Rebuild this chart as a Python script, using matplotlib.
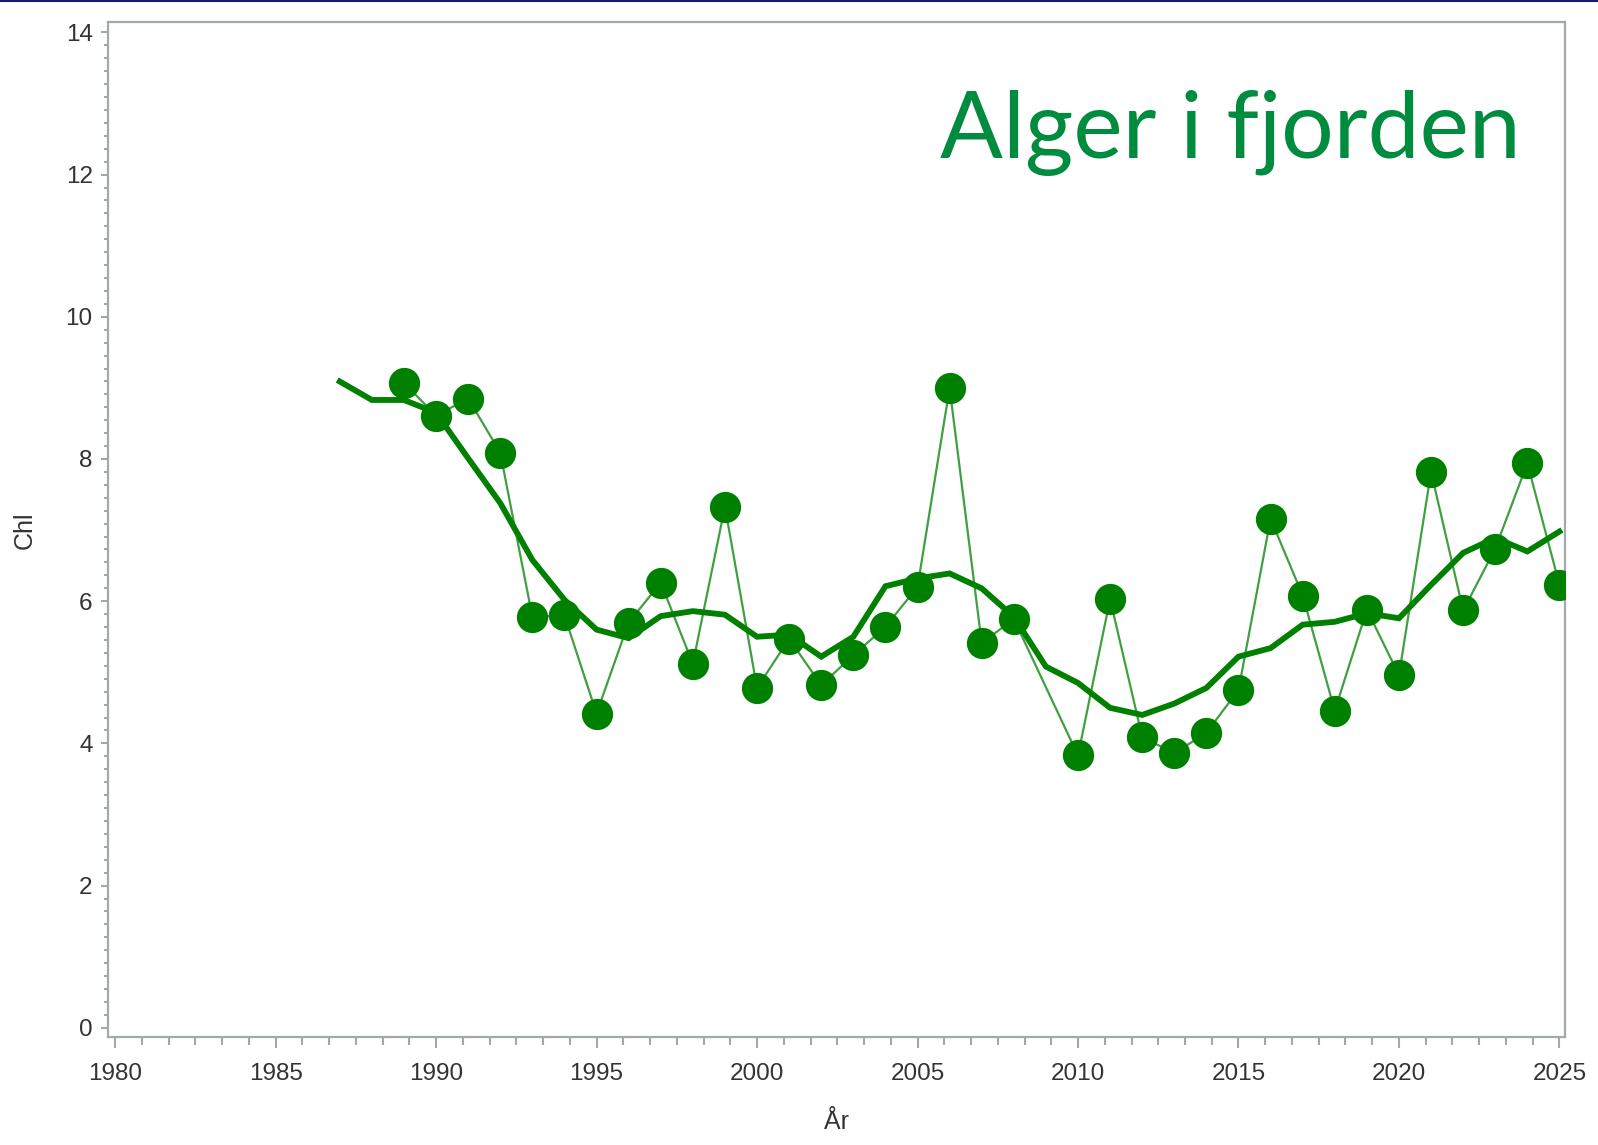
import matplotlib.pyplot as plt
from matplotlib.ticker import MultipleLocator
from matplotlib.lines import Line2D

# measured yearly means (no value for 2009)
years = [1989, 1990, 1991, 1992, 1993, 1994, 1995, 1996, 1997, 1998,
         1999, 2000, 2001, 2002, 2003, 2004, 2005, 2006, 2007, 2008,
         2010, 2011, 2012, 2013, 2014, 2015, 2016, 2017, 2018, 2019,
         2020, 2021, 2022, 2023, 2024, 2025]
chl = [9.07, 8.61, 8.85, 8.09, 5.78, 5.80, 4.42, 5.70, 6.26, 5.12,
       7.33, 4.78, 5.47, 4.82, 5.24, 5.64, 6.20, 9.00, 5.41, 5.75,
       3.83, 6.03, 4.09, 3.86, 4.15, 4.75, 7.16, 6.08, 4.46, 5.88,
       4.96, 7.82, 5.87, 6.74, 7.94, 6.23]

# smoothed trend
trend_years = list(range(1987, 2026))
trend = [9.09, 8.83, 8.83, 8.65, 8.01, 7.38, 6.58, 6.02, 5.60, 5.48,
         5.79, 5.86, 5.81, 5.50, 5.53, 5.22, 5.50, 6.21, 6.32, 6.39,
         6.18, 5.78, 5.08, 4.85, 4.50, 4.40, 4.56, 4.78, 5.22, 5.34,
         5.67, 5.71, 5.83, 5.76, 6.23, 6.68, 6.89, 6.70, 6.98]

x_ticks = [1980, 1985, 1990, 1995, 2000, 2005, 2010, 2015, 2020, 2025]
y_ticks = [0, 2, 4, 6, 8, 10, 12, 14]

GREEN = "#008000"
AXIS_GREY = "#A3A8AD"
TEXT_GREY = "#333333"


def plot_chart():
    fig = plt.figure(figsize=(15.98, 11.45), dpi=100)
    ax = fig.add_axes([0.0676, 0.0943, 0.9117, 0.8861])

    ax.plot(years, chl, color=GREEN, linewidth=1.6, alpha=0.75, zorder=2)
    ax.plot(trend_years, trend, color=GREEN, linewidth=4.2, zorder=3,
            solid_joinstyle="miter")
    ax.plot(years, chl, linestyle="none", marker="o", markersize=22.5,
            color=GREEN, markeredgewidth=0, zorder=4)

    ax.set_xlim(1979.78, 2025.17)
    ax.set_ylim(-0.13, 14.14)
    ax.set_xticks(x_ticks)
    ax.set_yticks(y_ticks)
    ax.xaxis.set_minor_locator(MultipleLocator(5 / 6))
    ax.yaxis.set_minor_locator(MultipleLocator(2 / 11))

    for s in ax.spines.values():
        s.set_color(AXIS_GREY)
        s.set_linewidth(1.6)

    ax.tick_params(axis="x", which="major", length=8, width=1.5,
                   color=AXIS_GREY, pad=11, labelsize=17.5,
                   labelcolor=TEXT_GREY)
    ax.tick_params(axis="x", which="minor", length=5.5, width=1.5,
                   color=AXIS_GREY)
    ax.tick_params(axis="y", which="major", length=5, width=1.5,
                   color=AXIS_GREY, pad=6, labelsize=17.5,
                   labelcolor=TEXT_GREY)
    ax.tick_params(axis="y", which="minor", length=3, width=1.5,
                   color=AXIS_GREY)
    for lab in ax.get_xticklabels() + ax.get_yticklabels():
        lab.set_fontfamily("Liberation Sans")

    ax.set_xlabel("År", fontsize=18, color=TEXT_GREY,
                  fontfamily="Liberation Sans", va="center")
    ax.set_ylabel("Chl", fontsize=18, color=TEXT_GREY,
                  fontfamily="Liberation Sans", va="center")
    ax.xaxis.set_label_coords(0.5003, -0.0838)
    ax.yaxis.set_label_coords(-0.057, 0.4997)

    fig.text(1521 / 1598, 1 - 158 / 1145, "Alger i fjorden",
             ha="right", va="baseline", fontsize=67, color="#008C3E",
             fontfamily="Lato", fontweight="normal")

    # thin navy frame line at the top of the image
    fig.add_artist(Line2D([0, 1], [0.9995, 0.9995], color="#1A1A6E",
                          linewidth=1.5, transform=fig.transFigure))

    fig.savefig("out.png", dpi=100)


def main():
    plot_chart()


if __name__ == "__main__":
    main()
